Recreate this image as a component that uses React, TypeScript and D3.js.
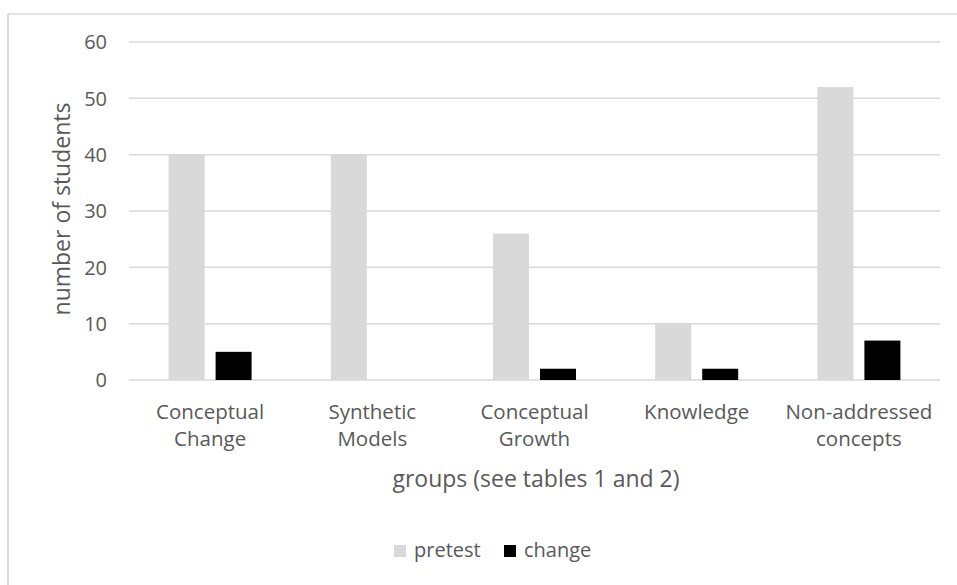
import React from "react";
import * as d3 from "d3";

const categories: string[][] = [
  ["Conceptual", "Change"],
  ["Synthetic", "Models"],
  ["Conceptual", "Growth"],
  ["Knowledge"],
  ["Non-addressed", "concepts"],
];
const seriesNames = ["pretest", "change"];
const pretest = [40, 40, 26, 10, 52];
const change = [5, 0, 2, 2, 7];
const yTicks = [0, 10, 20, 30, 40, 50, 60];
const colors = ["#d9d9d9", "#000000"];

const W = 957;
const H = 585;
const FONT = "'Open Sans', sans-serif";
const TEXT = "#595959";

export default function App() {
  const x0 = d3
    .scaleBand<number>()
    .domain(categories.map((_, i) => i))
    .range([129, 940])
    .paddingInner(0)
    .paddingOuter(0);
  const x1 = d3
    .scaleBand<string>()
    .domain(seriesNames)
    .range([0, x0.bandwidth()])
    .paddingInner(0.234)
    .paddingOuter(0.843);
  const y = d3.scaleLinear().domain([0, 60]).range([380, 42]);
  const series = [pretest, change];

  return (
    <svg
      width={W}
      height={H}
      style={{ position: "absolute", left: 0, top: 0, background: "#fff" }}
      fontFamily={FONT}
    >
      <rect x={0} y={0} width={W} height={H} fill="#fff" />
      {/* chart border */}
      <line x1={8} x2={W} y1={14} y2={14} stroke="#d9d9d9" strokeWidth={1.5} />
      <line x1={8} x2={8} y1={14} y2={H} stroke="#d9d9d9" strokeWidth={2} />

      {/* gridlines */}
      {yTicks.map((t) => (
        <g key={t}>
          <line
            x1={129}
            x2={940}
            y1={y(t)}
            y2={y(t)}
            stroke="#d9d9d9"
            strokeWidth={1.5}
          />
          <text
            x={107}
            y={y(t)}
            dy="0.36em"
            textAnchor="end"
            fontSize={20}
            fill={TEXT}
          >
            {t}
          </text>
        </g>
      ))}

      {/* bars */}
      {series.map((vals, si) =>
        vals.map((v, ci) => (
          <rect
            key={`${si}-${ci}`}
            x={(x0(ci) ?? 0) + (x1(seriesNames[si]) ?? 0)}
            y={y(v)}
            width={x1.bandwidth()}
            height={y(0) - y(v)}
            fill={colors[si]}
          />
        ))
      )}

      {/* category labels */}
      {categories.map((lines, ci) => (
        <text
          key={ci}
          x={(x0(ci) ?? 0) + x0.bandwidth() / 2}
          y={418.5}
          textAnchor="middle"
          fontSize={20.5}
          fill={TEXT}
        >
          {lines.map((l, li) => (
            <tspan key={li} x={(x0(ci) ?? 0) + x0.bandwidth() / 2} dy={li === 0 ? 0 : 27.5}>
              {l}
            </tspan>
          ))}
        </text>
      ))}

      {/* axis titles */}
      <text
        x={536}
        y={487}
        textAnchor="middle"
        fontSize={23}
        fill={TEXT}
      >
        groups (see tables 1 and 2)
      </text>
      <text
        transform={`translate(70,209) rotate(-90)`}
        textAnchor="middle"
        fontSize={23}
        fill={TEXT}
      >
        number of students
      </text>

      {/* legend */}
      {seriesNames.map((s, i) => {
        const lx = [394, 504][i];
        return (
          <g key={s}>
            <rect x={lx} y={545} width={12} height={12} fill={colors[i]} />
            <text x={lx + 20} y={557} fontSize={20} fill={TEXT}>
              {s}
            </text>
          </g>
        );
      })}
    </svg>
  );
}
